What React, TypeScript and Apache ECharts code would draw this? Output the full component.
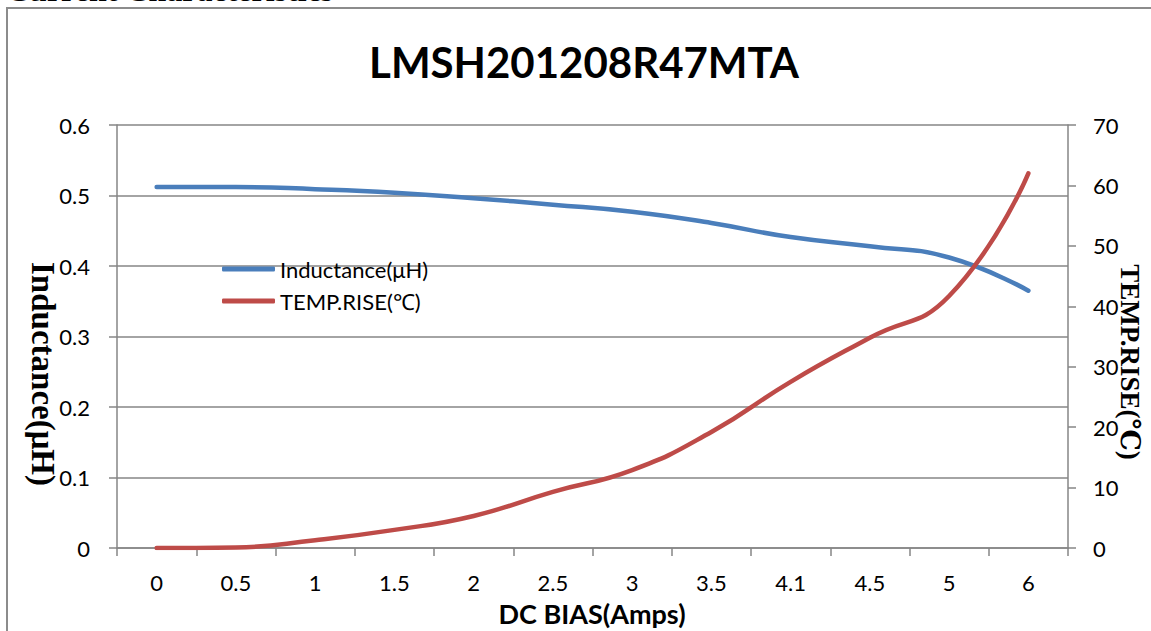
import React, { useEffect, useRef } from "react";
import * as echarts from "echarts";

const categories = ["0", "0.5", "1", "1.5", "2", "2.5", "3", "3.5", "4.1", "4.5", "5", "6"];
const inductance = [0.512, 0.512, 0.509, 0.504, 0.496, 0.487, 0.477, 0.461, 0.441, 0.428, 0.412, 0.365];
const tempRise = [0, 0.1, 1.3, 3, 5.3, 9.3, 12.9, 19.2, 27.5, 34.8, 41.7, 62];

const titleText = "LMSH201208R47MTA";
const headerText = "Current Characteristics";
const xName = "DC BIAS(Amps)";
const yLeftName = "Inductance(μH)";
const yRightName = "TEMP.RISE(℃)";
const seriesNames = ["Inductance(μH)", "TEMP.RISE(℃)"];

const AXIS = "#868686";
const SANS = "Lato, 'Open Sans', sans-serif";
const SERIF = "'Liberation Serif', 'DejaVu Serif', serif";

export default function App() {
  const ref = useRef<HTMLDivElement>(null);
  useEffect(() => {
    document.body.style.margin = "0";
    const chart = echarts.init(ref.current!, null, { renderer: "svg" });
    chart.setOption({
      animation: false,
      backgroundColor: "#ffffff",
      legend: {
        orient: "vertical",
        left: 222,
        top: 257,
        padding: 0,
        itemWidth: 53,
        itemHeight: 5,
        itemGap: 8,
        icon: "roundRect",
        textStyle: { fontFamily: SANS, fontSize: 22, color: "#000", lineHeight: 24 },
        data: seriesNames,
      },
      grid: { left: 117, right: 83, top: 125, bottom: 83 },
      xAxis: {
        type: "category",
        data: categories,
        boundaryGap: true,
        axisLine: { lineStyle: { color: AXIS, width: 1.5 } },
        axisTick: { show: true, length: 8, inside: false, lineStyle: { color: AXIS, width: 1.5 } },
        axisLabel: { color: "#000", fontFamily: SANS, fontSize: 22, margin: 23 },
        splitLine: { show: false },
      },
      yAxis: [
        {
          type: "value",
          min: 0,
          max: 0.6,
          interval: 0.1,
          axisLine: { show: true, lineStyle: { color: AXIS, width: 1.5 } },
          axisTick: { show: true, length: 8, lineStyle: { color: AXIS, width: 1.5 } },
          axisLabel: { color: "#000", fontFamily: SANS, fontSize: 22, margin: 27 },
          splitLine: { show: true, lineStyle: { color: AXIS, width: 1.5 } },
        },
        {
          type: "value",
          min: 0,
          max: 70,
          interval: 10,
          position: "right",
          axisLine: { show: true, lineStyle: { color: AXIS, width: 1.5 } },
          axisTick: { show: true, length: 8, lineStyle: { color: AXIS, width: 1.5 } },
          axisLabel: { color: "#000", fontFamily: SANS, fontSize: 22, margin: 25 },
          splitLine: { show: false },
        },
      ],
      series: [
        {
          name: seriesNames[0],
          type: "line",
          data: inductance,
          yAxisIndex: 0,
          smooth: true,
          showSymbol: false,
          symbol: "none",
          color: "#4A7EBB",
          lineStyle: { color: "#4A7EBB", width: 4.5, cap: "round", join: "round" },
        },
        {
          name: seriesNames[1],
          type: "line",
          data: tempRise,
          yAxisIndex: 1,
          smooth: true,
          showSymbol: false,
          symbol: "none",
          color: "#BE4B48",
          lineStyle: { color: "#BE4B48", width: 4.5, cap: "round", join: "round" },
        },
      ],
      graphic: [
        {
          type: "rect",
          silent: true,
          z: -1,
          shape: { x: 7, y: 8, width: 1200, height: 700 },
          style: { fill: "none", stroke: "#8c8c8c", lineWidth: 2 },
        },
        {
          type: "text",
          x: 6,
          y: 6,
          style: {
            text: headerText,
            font: `bold 32px ${SERIF}`,
            fill: "#000",
            textAlign: "left",
            textVerticalAlign: "bottom",
          },
        },
        {
          type: "text",
          x: 584,
          y: 62,
          style: {
            text: titleText,
            font: `bold 42px ${SANS}`,
            fill: "#000",
            textAlign: "center",
            textVerticalAlign: "middle",
          },
        },
        {
          type: "text",
          x: 592,
          y: 613,
          style: {
            text: xName,
            font: `bold 27px ${SANS}`,
            fill: "#000",
            textAlign: "center",
            textVerticalAlign: "middle",
          },
        },
        {
          type: "text",
          x: 43,
          y: 374,
          rotation: -Math.PI / 2,
          style: {
            text: yLeftName,
            font: `bold 33px ${SERIF}`,
            fill: "#000",
            textAlign: "center",
            textVerticalAlign: "middle",
          },
        },
        {
          type: "text",
          x: 1130,
          y: 362,
          rotation: -Math.PI / 2,
          style: {
            text: yRightName,
            font: `bold 27px ${SERIF}`,
            fill: "#000",
            textAlign: "center",
            textVerticalAlign: "middle",
          },
        },
      ],
    });
    return () => chart.dispose();
  }, []);
  return <div ref={ref} style={{ width: 1151, height: 631 }} />;
}
